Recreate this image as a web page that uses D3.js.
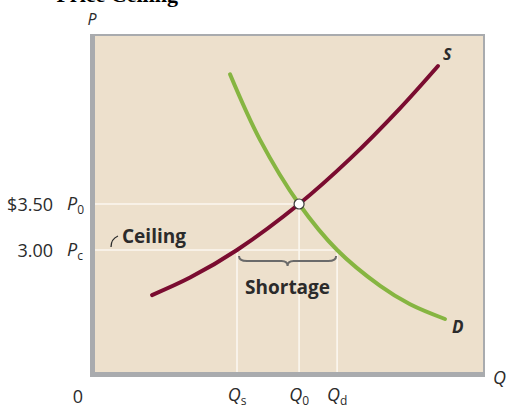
<!DOCTYPE html>
<html>
<head>
<meta charset="utf-8">
<script src="https://cdn.jsdelivr.net/npm/d3@7/dist/d3.min.js"></script>
<style>
  html, body { margin: 0; padding: 0; background: #ffffff; }
  svg { display: block; }
</style>
</head>
<body>
<script>
// Price ceiling diagram: supply, demand, equilibrium and the shortage at the ceiling price.
const supplyQ = [14.7, 24.5, 36.6, 52.6, 65.7, 78.6, 88.4];
const supplyP = [2.51, 2.70, 3.00, 3.50, 3.99, 4.54, 5.00];
const demandQ = [34.8, 42.5, 52.6, 62.4, 73.5, 81.2, 90.2];
const demandP = [4.91, 4.20, 3.50, 3.00, 2.61, 2.41, 2.25];

const priceTicks = [3.50, 3.00];
const priceTickLabels = ["$3.50", "3.00"];
const priceSymbols = ["0", "c"];          // subscripts of P
const qtyTicks = [36.6, 52.6, 62.4];       // Qs, Q0, Qd
const qtySymbols = ["s", "0", "d"];        // subscripts of Q
const equilibrium = { q: 52.6, p: 3.50 };
const ceiling = { p: 3.00, qs: 36.6, qd: 62.4 };

const W = 507, H = 410;
const panel = { left: 95, right: 483, top: 36, bottom: 372 };

const x = d3.scaleLinear().domain([0, 100]).range([panel.left, panel.right]);
const y = d3.scaleLinear().domain([3.0, 3.5]).range([250, 204]);

const svg = d3.select("body").append("svg")
  .attr("width", W).attr("height", H);

const sans = "'Open Sans', 'DejaVu Sans', sans-serif";
const ink = "#2b2b2b";

// Heading, running off the top edge
svg.append("text")
  .attr("x", 178).attr("y", 2)
  .attr("text-anchor", "end")
  .style("font-family", "'Liberation Serif', serif")
  .style("font-weight", "bold").style("font-size", "22px")
  .attr("fill", "#000")
  .text("Price Ceiling");

// Plot panel with a grey frame
svg.append("rect")
  .attr("x", panel.left - 5).attr("y", panel.top - 2)
  .attr("width", panel.right - panel.left + 7)
  .attr("height", panel.bottom - panel.top + 7)
  .attr("fill", "#a9abae");
svg.append("rect")
  .attr("x", panel.left).attr("y", panel.top)
  .attr("width", panel.right - panel.left)
  .attr("height", panel.bottom - panel.top)
  .attr("fill", "#ede0cc");

// White guide lines
const guide = svg.append("g").attr("stroke", "#fbf7f0").attr("stroke-width", 1.6);
guide.append("line")
  .attr("x1", x(0)).attr("x2", x(equilibrium.q))
  .attr("y1", y(equilibrium.p)).attr("y2", y(equilibrium.p));
guide.append("line")
  .attr("x1", x(0)).attr("x2", x(ceiling.qd))
  .attr("y1", y(ceiling.p)).attr("y2", y(ceiling.p));
[[ceiling.qs, ceiling.p], [equilibrium.q, equilibrium.p], [ceiling.qd, ceiling.p]].forEach(([q, p]) => {
  guide.append("line")
    .attr("x1", x(q)).attr("x2", x(q))
    .attr("y1", panel.bottom).attr("y2", y(p));
});

// Curves
const line = d3.line()
  .x(d => x(d[0])).y(d => y(d[1]))
  .curve(d3.curveCatmullRom.alpha(0.5));

svg.append("path")
  .datum(demandQ.map((q, i) => [q, demandP[i]]))
  .attr("d", line)
  .attr("fill", "none").attr("stroke", "#86b541")
  .attr("stroke-width", 4).attr("stroke-linecap", "round");

svg.append("path")
  .datum(supplyQ.map((q, i) => [q, supplyP[i]]))
  .attr("d", line)
  .attr("fill", "none").attr("stroke", "#7a0c30")
  .attr("stroke-width", 4).attr("stroke-linecap", "round");

// Equilibrium point
svg.append("circle")
  .attr("cx", x(equilibrium.q)).attr("cy", y(equilibrium.p))
  .attr("r", 5).attr("fill", "#ffffff")
  .attr("stroke", "#3a3a3a").attr("stroke-width", 1.2);

// Brace spanning the shortage
const bx0 = x(ceiling.qs) + 2, bx1 = x(ceiling.qd) - 1;
const bm = (bx0 + bx1) / 2, by = y(ceiling.p) + 6;
svg.append("path")
  .attr("d", `M${bx0},${by} Q${bx0},${by + 5} ${bx0 + 8},${by + 5} L${bm - 6},${by + 5} Q${bm},${by + 5} ${bm},${by + 10} Q${bm},${by + 5} ${bm + 6},${by + 5} L${bx1 - 8},${by + 5} Q${bx1},${by + 5} ${bx1},${by}`)
  .attr("fill", "none").attr("stroke", "#6a6a6a").attr("stroke-width", 2);

svg.append("text")
  .attr("x", bm).attr("y", 294)
  .attr("text-anchor", "middle")
  .style("font-family", sans).style("font-weight", "bold").style("font-size", "19px")
  .attr("fill", ink).text("Shortage");

// Ceiling label with its hook
svg.append("path")
  .attr("d", "M111,247 Q111,239 118,236")
  .attr("fill", "none").attr("stroke", ink).attr("stroke-width", 1.3);
svg.append("text")
  .attr("x", 122).attr("y", 243)
  .style("font-family", sans).style("font-weight", "bold").style("font-size", "19px")
  .attr("fill", ink).text("Ceiling");

// Price axis labels
priceTicks.forEach((p, i) => {
  svg.append("text")
    .attr("x", 53).attr("y", y(p) + 7)
    .attr("text-anchor", "end")
    .style("font-family", sans).style("font-size", "18px")
    .attr("fill", ink).text(priceTickLabels[i]);
  const t = svg.append("text")
    .attr("x", 67).attr("y", y(p) + 6)
    .style("font-family", sans).style("font-size", "18px")
    .attr("fill", ink);
  t.append("tspan").style("font-style", "italic").text("P");
  t.append("tspan").attr("dy", 4).style("font-size", "12px").text(priceSymbols[i]);
});

// Quantity axis labels
svg.append("text")
  .attr("x", x(0) - 17).attr("y", 403)
  .attr("text-anchor", "middle")
  .style("font-family", sans).style("font-size", "18px")
  .attr("fill", ink).text("0");

qtyTicks.forEach((q, i) => {
  const t = svg.append("text")
    .attr("x", x(q)).attr("y", 401)
    .attr("text-anchor", "middle")
    .style("font-family", sans).style("font-size", "18px")
    .attr("fill", ink);
  t.append("tspan").style("font-style", "italic").text("Q");
  t.append("tspan").attr("dy", 4).style("font-size", "12px").text(qtySymbols[i]);
});

// Axis names and curve names
svg.append("text")
  .attr("x", 92).attr("y", 25).attr("text-anchor", "middle")
  .style("font-family", sans).style("font-style", "italic").style("font-size", "16px")
  .attr("fill", ink).text("P");
svg.append("text")
  .attr("x", 493).attr("y", 384)
  .style("font-family", sans).style("font-style", "italic").style("font-size", "18px")
  .attr("fill", ink).text("Q");
svg.append("text")
  .attr("x", x(supplyQ[supplyQ.length - 1]) + 5).attr("y", y(supplyP[supplyP.length - 1]) - 6)
  .style("font-family", sans).style("font-style", "italic").style("font-weight", "bold").style("font-size", "16px")
  .attr("fill", ink).text("S");
svg.append("text")
  .attr("x", x(demandQ[demandQ.length - 1]) + 7).attr("y", y(demandP[demandP.length - 1]) + 14)
  .style("font-family", sans).style("font-style", "italic").style("font-weight", "bold").style("font-size", "17px")
  .attr("fill", ink).text("D");
</script>
</body>
</html>
